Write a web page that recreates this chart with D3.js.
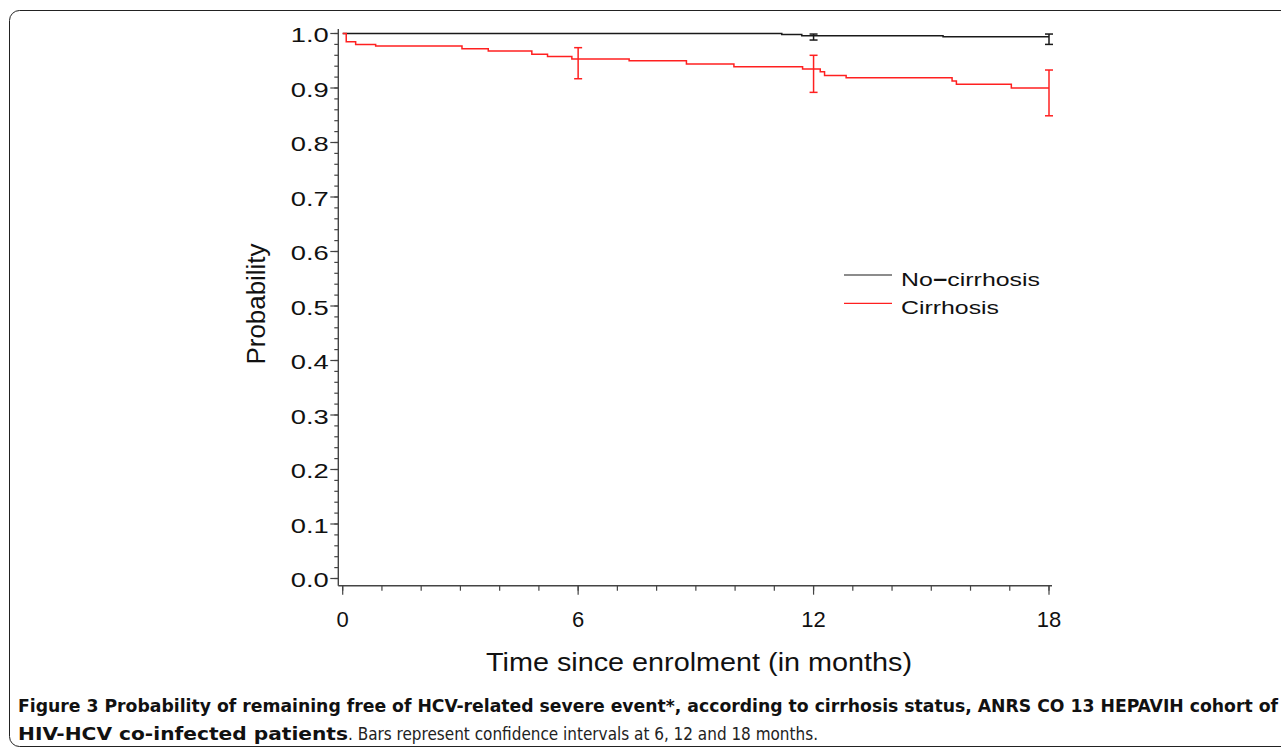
<!DOCTYPE html>
<html>
<head>
<meta charset="utf-8">
<script src="https://cdn.jsdelivr.net/npm/d3@7"></script>
<style>
  html, body { margin: 0; padding: 0; background: #fff; }
  svg { display: block; }
</style>
</head>
<body>
<svg id="chart" width="1281" height="749"></svg>
<script>
// ---- Data ----
const noCirrhosisTimes = [0, 11.19, 11.7, 15.3, 18];
const noCirrhosisSurv  = [1.0, 0.998, 0.996, 0.994, 0.994];

const cirrhosisTimes = [0, 0.09, 0.33, 0.84, 3.04, 3.71, 4.82, 5.22, 5.84, 7.30, 8.76, 9.97, 11.72, 12.17, 12.28, 12.83, 15.53, 15.64, 17.04, 18];
const cirrhosisSurv  = [1.0, 0.985, 0.980, 0.977, 0.972, 0.968, 0.962, 0.958, 0.953, 0.950, 0.944, 0.939, 0.935, 0.930, 0.923, 0.919, 0.913, 0.907, 0.900, 0.900];

const noCirrhosisCITimes = [12, 18];
const noCirrhosisCILower = [0.988, 0.980];
const noCirrhosisCIUpper = [0.999, 0.999];

const cirrhosisCITimes = [6, 12, 18];
const cirrhosisCILower = [0.917, 0.892, 0.849];
const cirrhosisCIUpper = [0.974, 0.960, 0.933];

const xTickLabels = [0, 6, 12, 18];
const yTickLabels = ["0.0","0.1","0.2","0.3","0.4","0.5","0.6","0.7","0.8","0.9","1.0"];
const seriesNames = [["No", "\u2212", "cirrhosis"], ["Cirrhosis"]];
const seriesColors = ["#1a1a1a", "#ff2020"];

const captionBold1 = "Figure 3 Probability of remaining free of HCV-related severe event*, according to cirrhosis status, ANRS CO 13 HEPAVIH cohort of";
const captionBold2 = "HIV-HCV co-infected patients";
const captionRest2 = ". Bars represent confidence intervals at 6, 12 and 18 months.";

// ---- Drawing ----
const svg = d3.select("#chart");
const x = d3.scaleLinear().domain([0, 18]).range([342.7, 1049]);
const y = d3.scaleLinear().domain([0, 1]).range([578.5, 33.5]);
const axisX = 338.3, axisY = 585.7;
const axisColor = "#444";
const sansFont = "'Liberation Sans', Arial, Helvetica, sans-serif";
const capFont = "'Liberation Sans Narrow', 'DejaVu Sans Condensed', 'Open Sans', sans-serif";

// frame
svg.append("rect")
  .attr("x", 9.5).attr("y", 10.5).attr("width", 1300).attr("height", 736)
  .attr("rx", 10).attr("ry", 10)
  .attr("fill", "none").attr("stroke", "#222").attr("stroke-width", 1);

// Y axis
const yMajor = d3.range(0, 11).map(i => i / 10);
const yMinor = d3.range(0, 51).map(i => i / 50);
const yAxisG = svg.append("g").attr("transform", `translate(${axisX},0)`);
yAxisG.append("line").attr("x1", 0).attr("x2", 0).attr("y1", 29).attr("y2", axisY)
  .attr("stroke", axisColor).attr("stroke-width", 1.4);
yAxisG.selectAll("line.minor").data(yMinor).join("line").attr("class", "minor")
  .attr("x1", -4).attr("x2", 0).attr("y1", d => y(d)).attr("y2", d => y(d))
  .attr("stroke", axisColor).attr("stroke-width", 1.2);
yAxisG.selectAll("line.major").data(yMajor).join("line").attr("class", "major")
  .attr("x1", -8).attr("x2", 0).attr("y1", d => y(d)).attr("y2", d => y(d))
  .attr("stroke", axisColor).attr("stroke-width", 1.2);
yAxisG.selectAll("text").data(yMajor).join("text")
  .attr("x", -9.5).attr("y", d => y(d) + 8.5)
  .attr("text-anchor", "end")
  .attr("font-family", sansFont).attr("font-size", 20)
  .attr("textLength", 38).attr("lengthAdjust", "spacingAndGlyphs")
  .attr("fill", "#111")
  .text((d, i) => yTickLabels[i]);

// X axis
const xMinor = d3.range(0, 19);
const xAxisG = svg.append("g").attr("transform", `translate(0,${axisY})`);
xAxisG.append("line").attr("x1", axisX).attr("x2", 1052).attr("y1", 0).attr("y2", 0)
  .attr("stroke", axisColor).attr("stroke-width", 1.4);
xAxisG.selectAll("line.minor").data(xMinor).join("line").attr("class", "minor")
  .attr("x1", d => x(d)).attr("x2", d => x(d)).attr("y1", 0).attr("y2", 5)
  .attr("stroke", axisColor).attr("stroke-width", 1.2);
xAxisG.selectAll("line.major").data(xTickLabels).join("line").attr("class", "major")
  .attr("x1", d => x(d)).attr("x2", d => x(d)).attr("y1", 0).attr("y2", 9)
  .attr("stroke", axisColor).attr("stroke-width", 1.2);
xAxisG.selectAll("text").data(xTickLabels).join("text")
  .attr("x", d => x(d)).attr("y", 41.5)
  .attr("text-anchor", "middle")
  .attr("font-family", sansFont).attr("font-size", 22)
  .attr("fill", "#111")
  .text(d => d);

// Axis titles
svg.append("text")
  .attr("x", 699).attr("y", 671)
  .attr("text-anchor", "middle")
  .attr("font-family", sansFont).attr("font-size", 26)
  .attr("textLength", 426).attr("lengthAdjust", "spacingAndGlyphs")
  .attr("fill", "#111")
  .text("Time since enrolment (in months)");

svg.append("text")
  .attr("transform", "translate(265,304) rotate(-90)")
  .attr("text-anchor", "middle")
  .attr("font-family", sansFont).attr("font-size", 26)
  .attr("textLength", 121).attr("lengthAdjust", "spacingAndGlyphs")
  .attr("fill", "#111")
  .text("Probability");

// Survival curves
const line = d3.line().x(d => x(d[0])).y(d => y(d[1])).curve(d3.curveStepAfter);
const series = [
  { times: noCirrhosisTimes, surv: noCirrhosisSurv, ciT: noCirrhosisCITimes, lo: noCirrhosisCILower, hi: noCirrhosisCIUpper, color: seriesColors[0] },
  { times: cirrhosisTimes, surv: cirrhosisSurv, ciT: cirrhosisCITimes, lo: cirrhosisCILower, hi: cirrhosisCIUpper, color: seriesColors[1] }
];
series.forEach(s => {
  const pts = s.times.map((t, i) => [t, s.surv[i]]);
  svg.append("path").datum(pts)
    .attr("d", line)
    .attr("fill", "none").attr("stroke", s.color).attr("stroke-width", 1.5);
  const g = svg.append("g");
  s.ciT.forEach((t, i) => {
    const cx = x(t);
    g.append("line").attr("x1", cx).attr("x2", cx).attr("y1", y(s.hi[i])).attr("y2", y(s.lo[i]))
      .attr("stroke", s.color).attr("stroke-width", 1.5);
    [s.hi[i], s.lo[i]].forEach(v => {
      g.append("line").attr("x1", cx - 4).attr("x2", cx + 4).attr("y1", y(v)).attr("y2", y(v))
        .attr("stroke", s.color).attr("stroke-width", 1.5);
    });
  });
});

// Legend
const legend = svg.append("g");
seriesNames.forEach((parts, i) => {
  const ly = 275 + i * 28.3;
  legend.append("line").attr("x1", 844).attr("x2", 892).attr("y1", ly).attr("y2", ly)
    .attr("stroke", seriesColors[i]).attr("stroke-width", 1.2);
  const t = legend.append("text")
    .attr("x", 901).attr("y", ly + 11)
    .attr("font-family", sansFont).attr("font-size", 19)
    .attr("textLength", i === 0 ? 139 : 98).attr("lengthAdjust", "spacingAndGlyphs")
    .attr("fill", "#111");
  parts.forEach((p, j) => {
    t.append("tspan").attr("font-weight", p === "\u2212" ? "bold" : "normal").text(p);
  });
});

// Caption
svg.append("text")
  .attr("x", 18).attr("y", 712)
  .attr("font-family", capFont).attr("font-size", 18).attr("font-weight", "bold")
  .attr("textLength", 1260).attr("lengthAdjust", "spacingAndGlyphs")
  .attr("fill", "#111")
  .text(captionBold1);
svg.append("text")
  .attr("x", 18).attr("y", 740)
  .attr("font-family", capFont).attr("font-size", 18).attr("font-weight", "bold")
  .attr("textLength", 330).attr("lengthAdjust", "spacingAndGlyphs")
  .attr("fill", "#111")
  .text(captionBold2);
svg.append("text")
  .attr("x", 348).attr("y", 740)
  .attr("font-family", capFont).attr("font-size", 18)
  .attr("textLength", 470).attr("lengthAdjust", "spacingAndGlyphs")
  .attr("fill", "#222")
  .text(captionRest2);
</script>
</body>
</html>
